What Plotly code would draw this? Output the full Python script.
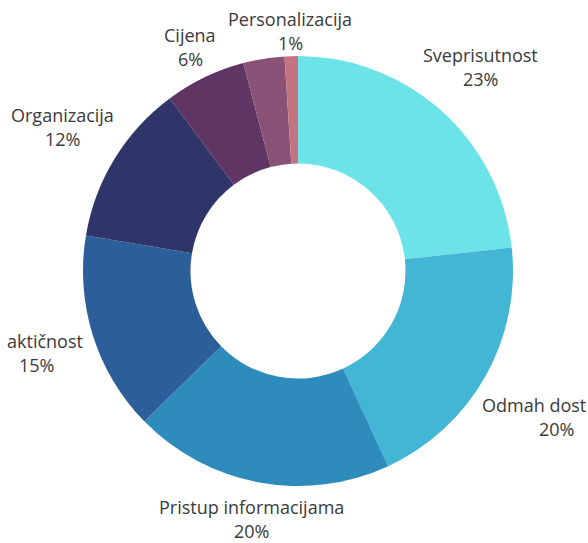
import math
import plotly.graph_objects as go

# ---- data ----
labels = ["Sveprisutnost", "Odmah dostupno", "Pristup informacijama", "Praktičnost",
          "Organizacija", "Cijena", "Ostalo", "Personalizacija"]
values = [23.3, 19.9, 19.6, 15.0, 12.2, 6.1, 3.1, 1.0]
show_label = [True, True, True, True, True, True, False, True]

# ---- style ----
colors = ["#6BE3E9", "#43B6D6", "#2E8CBD", "#2C5E99", "#2F3469",
          "#5E3563", "#8A5277", "#C47381"]
W, H = 588, 543
cx, cy, r = 298, 271, 215
hole = 0.5
font_size = 18
line_h = 24
box_h = 25.2
label_gap = 11
text_color = "#3a3a3a"
text_box_half = 0.69 * font_size  # half height of a one-line text box

# approximate Open Sans advance widths (em)
CW = {' ': 0.26, '%': 0.83, 'A': 0.63, 'C': 0.633, 'O': 0.781, 'P': 0.59, 'S': 0.534,
      'a': 0.556, 'b': 0.613, 'c': 0.476, 'č': 0.476, 'd': 0.613, 'e': 0.561,
      'f': 0.339, 'g': 0.548, 'h': 0.614, 'i': 0.253, 'j': 0.253, 'k': 0.525,
      'l': 0.253, 'm': 0.93, 'n': 0.614, 'o': 0.604, 'p': 0.613, 'r': 0.408,
      's': 0.477, 't': 0.353, 'u': 0.614, 'v': 0.501, 'z': 0.477}


def char_w(ch):
    return CW.get(ch, 0.572) * font_size


def text_w(s):
    return sum(char_w(ch) for ch in s)


def visible_part(s, left):
    """Keep only the characters that fit inside the canvas (as the source chart did)."""
    x = left
    kept, start = [], None
    for ch in s:
        x0, x1 = x, x + char_w(ch)
        if x0 >= 0 and x1 <= W:
            if start is None:
                start = x0
            kept.append(ch)
        x = x1
    txt = "".join(kept)
    lead = len(txt) - len(txt.lstrip())
    start += sum(char_w(c) for c in txt[:lead])
    txt = txt.strip()
    return txt, start


def add_text(anns, txt, xc, yc):
    anns.append(dict(
        x=xc / W, y=1 - yc / H, xref="paper", yref="paper",
        text=txt, showarrow=False, xanchor="center", yanchor="middle",
        borderpad=0, borderwidth=0,
        font=dict(family="Open Sans", size=font_size, color=text_color),
    ))


total = sum(values)
annotations = []
cum = 0.0
for lab, v, show in zip(labels, values, show_label):
    frac = (cum + v / 2) / total
    cum += v
    if not show:
        continue
    theta = 2 * math.pi * frac
    sx, sy = math.sin(theta), -math.cos(theta)
    pct = f"{round(100 * v / total)}%"
    w = max(text_w(lab), text_w(pct))
    d = r + label_gap + (w / 2) * abs(sx) + (box_h / 2) * abs(sy)
    px, py = cx + d * sx, cy + d * sy
    # keep the two-line block inside the canvas vertically
    py = min(py, H - text_box_half - line_h / 2)
    py = max(py, text_box_half + line_h / 2)
    name_txt, name_left = visible_part(lab, px - text_w(lab) / 2)
    add_text(annotations, name_txt, name_left + text_w(name_txt) / 2, py - line_h / 2)
    add_text(annotations, pct, px, py + line_h / 2)

fig = go.Figure(go.Pie(
    labels=labels,
    values=values,
    sort=False,
    direction="clockwise",
    rotation=0,
    hole=hole,
    marker=dict(colors=colors, line=dict(width=0)),
    textinfo="none",
    hoverinfo="label+percent",
    showlegend=False,
    domain=dict(x=[(cx - r) / W, (cx + r) / W],
                y=[(H - cy - r) / H, (H - cy + r) / H]),
))

fig.update_layout(
    width=W, height=H,
    margin=dict(l=0, r=0, t=0, b=0),
    paper_bgcolor="white",
    plot_bgcolor="white",
    annotations=annotations,
    font=dict(family="Open Sans", size=font_size, color=text_color),
)

fig.write_html("out.html", config={"displayModeBar": False},
               post_script="document.body.style.margin='0';")
